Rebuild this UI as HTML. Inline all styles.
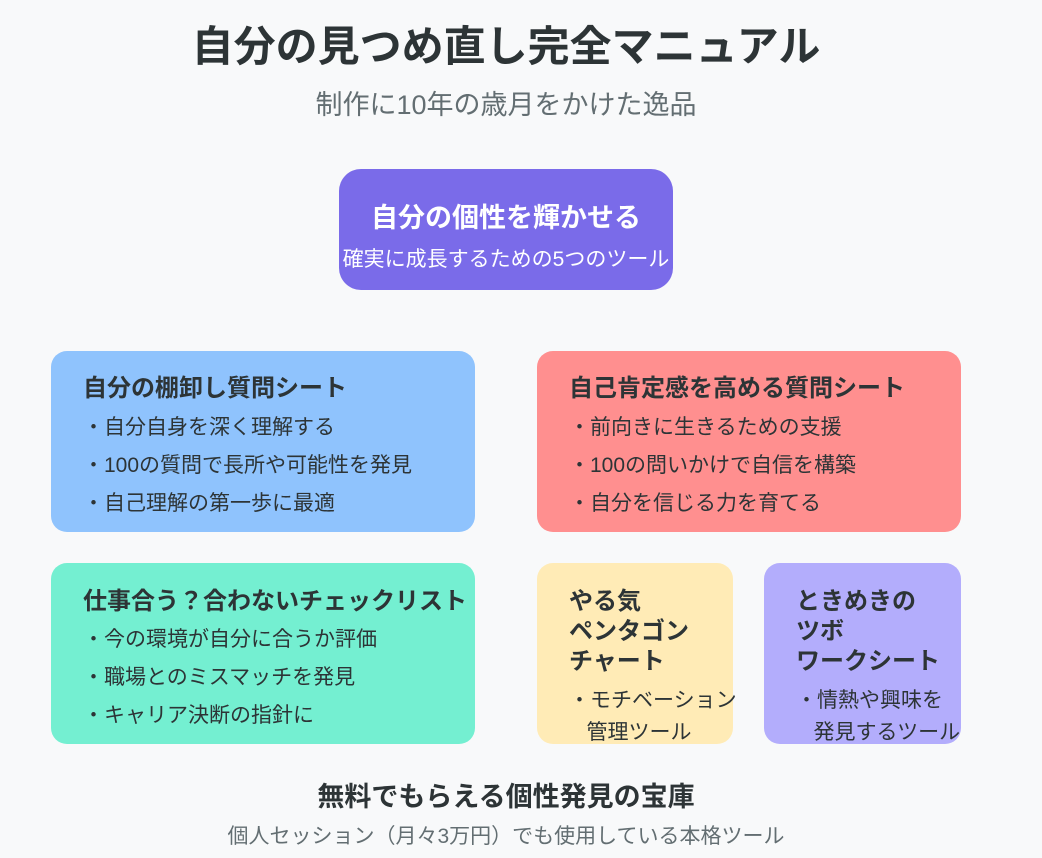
<!DOCTYPE html>
<html><head><meta charset="utf-8"><style>
body{margin:0;width:1042px;height:858px;background:#f8f9fa;position:relative;overflow:hidden;font-family:"Liberation Sans","Noto Sans CJK JP",sans-serif;color:#2d3436}
.t{position:absolute;white-space:nowrap;line-height:1}
.b{position:absolute;border-radius:16px}
.h{font-weight:bold;font-size:24px}
.p{font-size:21px}
</style></head><body>
<div class="t" style="left:0;width:1012px;text-align:center;top:26px;font-size:42px;font-weight:bold">自分の見つめ直し完全マニュアル</div>
<div class="t" style="left:0;width:1012px;text-align:center;top:92px;font-size:27px;color:#636e72">制作に10年の歳月をかけた逸品</div>

<div class="b" style="left:339px;top:169px;width:334px;height:121px;background:#7a6be9;border-radius:22px"></div>
<div class="t" style="left:339px;width:334px;text-align:center;top:205px;font-size:27px;font-weight:bold;color:#fff">自分の個性を輝かせる</div>
<div class="t" style="left:339px;width:334px;text-align:center;top:249px;font-size:21px;color:#fff">確実に成長するための5つのツール</div>

<div class="b" style="left:51px;top:351px;width:424px;height:181px;background:#8fc3fd"></div>
<div class="t h" style="left:83px;top:377px">自分の棚卸し質問シート</div>
<div class="t p" style="left:83px;top:417px">・自分自身を深く理解する</div>
<div class="t p" style="left:83px;top:455px">・100の質問で長所や可能性を発見</div>
<div class="t p" style="left:83px;top:493px">・自己理解の第一歩に最適</div>

<div class="b" style="left:537px;top:351px;width:424px;height:181px;background:#ff8f8f"></div>
<div class="t h" style="left:569px;top:377px">自己肯定感を高める質問シート</div>
<div class="t p" style="left:569px;top:417px">・前向きに生きるための支援</div>
<div class="t p" style="left:569px;top:455px">・100の問いかけで自信を構築</div>
<div class="t p" style="left:569px;top:493px">・自分を信じる力を育てる</div>

<div class="b" style="left:51px;top:563px;width:424px;height:181px;background:#74efd1"></div>
<div class="t h" style="left:83px;top:590px">仕事合う？合わないチェックリスト</div>
<div class="t p" style="left:83px;top:629px">・今の環境が自分に合うか評価</div>
<div class="t p" style="left:83px;top:667px">・職場とのミスマッチを発見</div>
<div class="t p" style="left:83px;top:705px">・キャリア決断の指針に</div>

<div class="b" style="left:537px;top:563px;width:196px;height:181px;background:#ffebb6"></div>
<div class="t h" style="left:569px;top:587px;line-height:30px">やる気<br>ペンタゴン<br>チャート</div>
<div class="t p" style="left:569px;top:685px;line-height:32px">・モチベーション<br>&nbsp;&nbsp;&nbsp;管理ツール</div>

<div class="b" style="left:764px;top:563px;width:197px;height:181px;background:#b3adfc"></div>
<div class="t h" style="left:796px;top:587px;line-height:30px">ときめきの<br>ツボ<br>ワークシート</div>
<div class="t p" style="left:796px;top:685px;line-height:32px">・情熱や興味を<br>&nbsp;&nbsp;&nbsp;発見するツール</div>

<div class="t" style="left:0;width:1012px;text-align:center;top:784px;font-size:27px;font-weight:bold">無料でもらえる個性発見の宝庫</div>
<div class="t" style="left:0;width:1012px;text-align:center;top:826px;font-size:21px;color:#636e72">個人セッション（月々3万円）でも使用している本格ツール</div>
</body></html>
